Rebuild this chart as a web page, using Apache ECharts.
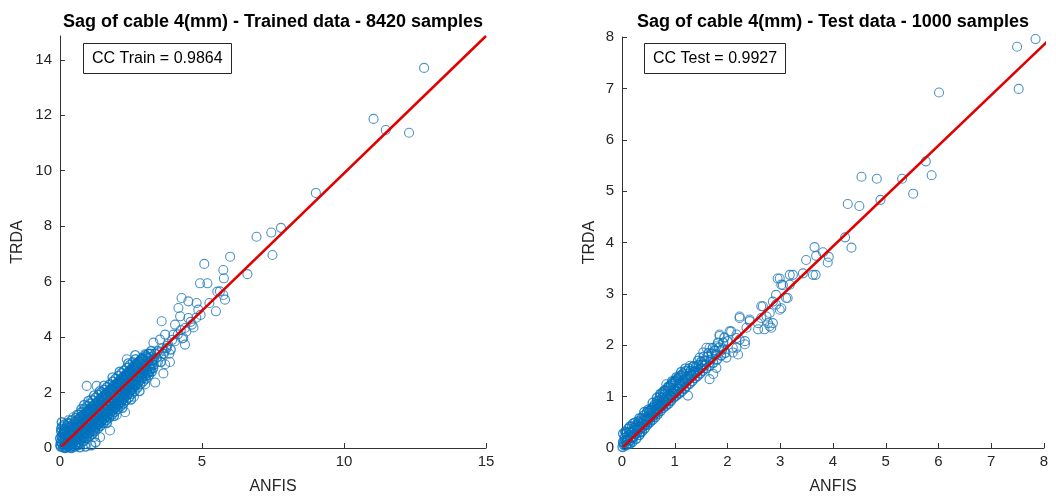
<!DOCTYPE html>
<html>
<head>
<meta charset="utf-8">
<script src="https://cdn.jsdelivr.net/npm/echarts@6/dist/echarts.min.js"></script>
<style>html,body{margin:0;padding:0;background:#fff}#c{width:1056px;height:500px}</style>
</head>
<body>
<div id="c"></div>
<script>
const FONT = '"Liberation Sans", Arial, Helvetica, sans-serif';

const leftTitle = 'Sag of cable 4(mm) - Trained data - 8420 samples';
const rightTitle = 'Sag of cable 4(mm) - Test data - 1000 samples';
const leftNote = 'CC Train = 0.9864';
const rightNote = 'CC Test = 0.9927';
const xName = 'ANFIS';
const yName = 'TRDA';

const trainXTicks = [0, 5, 10, 15];
const trainYTicks = [0, 2, 4, 6, 8, 10, 12, 14];
const testXTicks = [0, 1, 2, 3, 4, 5, 6, 7, 8];
const testYTicks = [0, 1, 2, 3, 4, 5, 6, 7, 8];

// regression lines (endpoints)
const trainFit = [[0.05, 0.05], [15, 14.86]];
const testFit = [[0.02, 0.02], [8.06, 7.91]];

// Training data: dense band
const trainBand = [
  [0.02,0.05],[0.03,0.22],[0.05,0.41],[0.04,0.6],[0.08,0.78],[0.1,0.02],[0.07,0.15],[0.12,0.33],[0.09,0.52],[0.14,0.68],[0.06,0.93],
  [0.18,0.0],[0.2,0.12],[0.17,0.27],[0.22,0.45],[0.19,0.61],[0.24,0.79],[0.28,0.05],[0.3,0.2],[0.27,0.38],[0.31,0.55],[0.29,0.72],
  [0.36,0.02],[0.38,0.15],[0.35,0.32],[0.4,0.48],[0.37,0.64],[0.42,0.83],[0.45,0.08],[0.48,0.26],[0.46,0.42],[0.5,0.6],[0.47,0.78],[0.52,0.95],
  [0.55,0.12],[0.58,0.3],[0.56,0.5],[0.6,0.68],[0.57,0.86],[0.62,1.02],[0.65,0.2],[0.68,0.4],[0.66,0.58],[0.7,0.77],[0.67,0.95],[0.72,1.12],
  [0.75,0.3],[0.78,0.48],[0.76,0.66],[0.8,0.85],[0.77,1.03],[0.82,1.2],[0.85,0.38],[0.88,0.56],[0.86,0.75],[0.9,0.93],[0.87,1.1],[0.92,1.3],
  [0.95,0.45],[0.98,0.64],[0.96,0.83],[1.0,1.02],[0.97,1.2],[1.02,1.38],[1.05,0.55],[1.08,0.74],[1.06,0.92],[1.1,1.12],[1.07,1.3],[1.12,1.5],
  [1.15,0.62],[1.18,0.83],[1.16,1.02],[1.2,1.2],[1.17,1.4],[1.22,1.58],[1.25,0.72],[1.28,0.92],[1.26,1.1],[1.3,1.3],[1.27,1.48],[1.32,1.68],
  [1.35,0.85],[1.38,1.02],[1.36,1.2],[1.4,1.4],[1.37,1.58],[1.42,1.78],[1.45,0.95],[1.48,1.12],[1.46,1.3],[1.5,1.5],[1.47,1.68],[1.52,1.86],
  [1.55,1.05],[1.58,1.22],[1.56,1.4],[1.6,1.6],[1.57,1.78],[1.62,1.96],[1.65,1.12],[1.68,1.32],[1.66,1.5],[1.7,1.7],[1.67,1.88],[1.72,2.06],
  [1.75,1.22],[1.78,1.42],[1.76,1.6],[1.8,1.8],[1.77,1.98],[1.82,2.15],[1.85,1.35],[1.88,1.52],[1.86,1.7],[1.9,1.9],[1.87,2.08],[1.92,2.25],
  [1.95,1.45],[1.98,1.62],[1.96,1.8],[2.0,2.0],[1.97,2.18],[2.02,2.35],[2.05,1.55],[2.08,1.72],[2.06,1.9],[2.1,2.1],[2.07,2.28],[2.12,2.45],
  [2.15,1.65],[2.18,1.82],[2.16,2.0],[2.2,2.2],[2.17,2.38],[2.22,2.56],[2.25,1.78],[2.28,1.95],[2.26,2.12],[2.3,2.3],[2.27,2.48],[2.32,2.65],
  [2.35,1.9],[2.38,2.06],[2.36,2.22],[2.4,2.4],[2.37,2.58],[2.42,2.76],[2.45,2.0],[2.48,2.16],[2.46,2.33],[2.5,2.5],[2.47,2.68],[2.52,2.86],
  [2.55,2.12],[2.58,2.3],[2.56,2.46],[2.6,2.62],[2.57,2.8],[2.62,2.98],[2.65,2.25],[2.68,2.42],[2.66,2.58],[2.7,2.74],[2.67,2.92],[2.72,3.08],
  [2.76,2.38],[2.8,2.55],[2.78,2.72],[2.82,2.88],[2.79,3.05],[2.85,3.2],[2.9,2.5],[2.92,2.68],[2.88,2.85],[2.95,3.0],[2.91,3.15],
  [3.02,2.6],[3.05,2.8],[3.0,2.98],[3.08,3.15],[3.04,3.3],[3.15,2.75],[3.18,2.95],[3.12,3.1],[3.2,3.28],[3.25,3.05],[3.3,3.2],[3.28,2.88],[3.35,3.4]
];

// Training data: additional band points filling the solid region
const trainBandFill = [
  [0.0,0.35],[0.01,0.12],[0.04,0.7],[0.13,0.1],[0.11,0.5],[0.16,0.85],[0.23,0.3],[0.25,0.62],[0.33,0.1],[0.34,0.45],[0.32,0.88],
  [0.43,0.2],[0.44,0.6],[0.41,1.0],[0.53,0.05],[0.54,0.4],[0.51,0.75],[0.55,1.08],[0.63,0.1],[0.64,0.5],[0.61,0.85],[0.65,1.2],
  [0.73,0.18],[0.74,0.58],[0.71,0.95],[0.76,1.3],[0.83,0.25],[0.84,0.65],[0.81,1.05],[0.86,1.4],[0.93,0.35],[0.94,0.75],[0.91,1.15],[0.96,1.52],
  [1.03,0.42],[1.04,0.85],[1.01,1.25],[1.06,1.6],[1.13,0.5],[1.14,0.95],[1.11,1.38],[1.16,1.72],[1.23,0.6],[1.24,1.05],[1.21,1.45],[1.26,1.82],
  [1.33,0.7],[1.34,1.15],[1.31,1.55],[1.36,1.92],[1.43,0.8],[1.44,1.25],[1.41,1.65],[1.46,2.02],[1.53,0.9],[1.54,1.32],[1.51,1.75],[1.56,2.1],
  [1.63,1.0],[1.64,1.42],[1.61,1.85],[1.66,2.2],[1.73,1.1],[1.74,1.52],[1.71,1.95],[1.76,2.3],[1.83,1.2],[1.84,1.62],[1.81,2.05],[1.86,2.4],
  [1.93,1.3],[1.94,1.72],[1.91,2.15],[1.96,2.5],[2.03,1.4],[2.04,1.82],[2.01,2.25],[2.06,2.6],[2.13,1.5],[2.14,1.92],[2.11,2.35],[2.16,2.7],
  [2.23,1.6],[2.24,2.02],[2.21,2.45],[2.26,2.8],[2.33,1.72],[2.34,2.12],[2.31,2.55],[2.36,2.9],[2.43,1.82],[2.44,2.22],[2.41,2.65],[2.46,3.0],
  [2.53,1.95],[2.54,2.35],[2.51,2.75],[2.56,3.1],[2.63,2.05],[2.64,2.45],[2.61,2.85],[2.66,3.2],[2.73,2.18],[2.74,2.58],[2.71,2.95],
  [2.83,2.3],[2.84,2.7],[2.81,3.1],[2.93,2.4],[2.94,2.8],[2.91,3.25],[3.03,2.5],[3.04,2.9],[3.01,3.35],[3.13,2.62],[3.14,3.0],[3.11,3.4],
  [3.23,2.75],[3.24,3.15],[3.21,3.5],[0.9,0.05],[1.1,0.1],[1.25,0.2],[0.7,0.02],[0.2,0.02],[0.4,0.0],
  [0.08,0.4],[0.15,0.55],[0.26,0.15],[0.27,0.9],[0.39,0.28],[0.38,0.75],[0.49,0.5],[0.5,0.85],[0.59,0.2],[0.6,0.95],[0.69,0.3],[0.69,1.05],
  [0.79,0.4],[0.79,1.15],[0.89,0.48],[0.89,1.22],[0.99,0.55],[0.99,1.32],[1.09,0.65],[1.09,1.42],[1.19,0.72],[1.19,1.52],[1.29,0.82],[1.29,1.62],
  [1.39,0.92],[1.39,1.72],[1.49,1.02],[1.49,1.82],[1.59,1.12],[1.59,1.92],[1.69,1.22],[1.69,2.02],[1.79,1.32],[1.79,2.12],[1.89,1.42],[1.89,2.22],
  [1.99,1.52],[1.99,2.32],[2.09,1.62],[2.09,2.42],[2.19,1.72],[2.19,2.52],[2.29,1.85],[2.29,2.62],[2.39,1.95],[2.39,2.72],[2.49,2.08],[2.49,2.82],
  [2.59,2.18],[2.59,2.92],[2.69,2.3],[2.69,3.02],[2.79,2.42],[2.79,3.12],[2.89,2.55],[2.89,3.22],[2.99,2.65],[2.99,3.1],[3.09,2.72],[3.09,3.25],
  [3.19,2.85],[3.19,3.4],[3.3,3.0],[3.4,3.25],[3.45,3.5],[3.55,3.1],[3.65,3.4],[3.75,3.6],[3.9,3.55],
  [0.75,1.4],[0.85,1.55],[1.0,1.7],[1.2,1.9],[1.4,2.05],[1.65,0.9],[1.9,1.15],[2.2,1.45],[2.5,1.75],[2.8,2.05],[1.55,2.25],[1.85,2.55],[2.1,2.75],[2.4,3.05],[2.65,3.35]
];

// Training data: scattered points and outliers
const trainSparse = [
  [3.45,3.1],[3.5,3.45],[3.55,3.3],[3.6,3.6],[3.68,3.5],[3.8,3.75],[3.85,3.4],[3.95,3.9],[4.05,3.85],[4.15,4.1],[4.25,4.25],[4.3,3.95],[4.45,4.2],[4.6,4.55],[4.7,4.35],[4.8,4.7],[4.95,4.8],
  [2.29,1.29],[1.76,0.63],[1.41,0.39],[1.2,0.4],[0.9,0.15],[2.0,1.2],[2.6,1.85],[3.0,2.3],
  [0.94,2.24],[1.29,2.24],[1.7,1.94],[1.1,1.75],[0.6,1.2],[0.3,1.0],[0.47,1.11],
  [2.35,3.2],[2.82,2.96],[3.7,3.02],[3.87,3.1],[3.35,2.36],[3.64,2.69],[2.99,3.38],
  [3.29,3.8],[3.76,3.68],[3.52,3.91],[4.4,3.73],[3.7,4.09],[3.99,4.09],[4.34,3.97],[4.05,4.45],[4.4,4.33],[4.64,4.45],
  [3.58,4.57],[4.23,4.75],[4.52,4.69],[4.17,5.05],[4.28,5.41],[4.52,5.29],[4.81,5.23],[5.26,5.23],[5.49,4.93],[5.81,5.35],[5.63,5.65],
  [4.87,4.99],[4.93,5.94],[5.19,5.94],[5.77,6.12],[5.75,6.42],[5.08,6.64],[5.99,6.9],[6.6,6.27],[5.54,5.64],[5.75,5.52],
  [6.92,7.62],[7.44,7.77],[7.78,7.94],[7.48,6.96],[9.01,9.2],[11.04,11.87],[11.47,11.47],[12.29,11.37],[12.82,13.71]
];

// Test data: dense band
const testBand = [
  [0.01,0.02],[0.03,0.1],[0.05,0.2],[0.02,0.28],[0.08,0.05],[0.1,0.15],[0.07,0.3],[0.12,0.38],[0.15,0.08],[0.17,0.2],[0.14,0.32],[0.19,0.42],[0.2,0.12],
  [0.22,0.22],[0.24,0.35],[0.21,0.48],[0.27,0.18],[0.29,0.3],[0.26,0.42],[0.31,0.52],[0.33,0.25],[0.35,0.38],[0.32,0.5],[0.38,0.32],[0.4,0.45],[0.37,0.58],
  [0.43,0.38],[0.45,0.52],[0.42,0.64],[0.48,0.45],[0.5,0.58],[0.47,0.7],[0.53,0.5],[0.55,0.63],[0.52,0.72],[0.58,0.55],[0.6,0.68],[0.57,0.78],
  [0.63,0.6],[0.65,0.74],[0.62,0.85],[0.68,0.66],[0.7,0.8],[0.67,0.92],[0.73,0.72],[0.75,0.87],[0.72,1.0],[0.78,0.78],[0.8,0.95],[0.77,1.08],
  [0.83,0.82],[0.85,1.0],[0.82,1.12],[0.88,0.86],[0.9,1.05],[0.87,1.18],[0.93,0.92],[0.95,1.1],[0.92,1.22],[0.98,0.98],[1.0,1.15],[0.97,1.28],
  [1.03,1.02],[1.05,1.2],[1.02,1.32],[1.08,1.06],[1.1,1.25],[1.07,1.38],[1.13,1.1],[1.15,1.3],[1.12,1.42],[1.18,1.15],[1.2,1.34],
  [1.22,1.2],[1.25,1.4],[1.28,1.25],[1.3,1.5],[1.33,1.3],[1.35,1.48],[1.38,1.36],[1.4,1.58],[1.43,1.4],[1.45,1.62],[1.48,1.45],[1.5,1.68],
  [1.53,1.5],[1.56,1.7],[1.6,1.55],[1.62,1.78],[1.66,1.6],[1.7,1.84],[1.73,1.66],[1.76,1.9],[1.8,1.72],[1.84,1.96],[1.88,1.8],[1.92,2.05],[1.96,1.85],[2.0,2.08],
  [0.04,0.05],[0.06,0.15],[0.09,0.22],[0.11,0.08],[0.13,0.25],[0.16,0.15],[0.18,0.3],[0.21,0.2],[0.23,0.4],[0.25,0.28],[0.28,0.38],[0.3,0.45],
  [0.34,0.3],[0.36,0.48],[0.39,0.4],[0.41,0.55],[0.44,0.45],[0.46,0.6],[0.49,0.52],[0.51,0.68],[0.54,0.58],[0.56,0.75],[0.59,0.62],[0.61,0.8],
  [0.64,0.68],[0.66,0.86],[0.69,0.74],[0.71,0.92],[0.74,0.8],[0.76,0.98],[0.79,0.85],[0.81,1.05],[0.84,0.9],[0.86,1.12],[0.89,0.95],[0.91,1.18],
  [0.94,1.0],[0.96,1.25],[0.99,1.06],[1.01,1.3],[1.04,1.1],[1.06,1.35],[1.09,1.15],[1.11,1.4],[1.14,1.22],[1.16,1.45],[1.19,1.28],[1.21,1.5],
  [1.24,1.32],[1.27,1.55],[1.32,1.4],[1.36,1.6],[1.41,1.48],[1.44,1.7],[1.5,1.55],[1.55,1.78],[1.58,1.62],[1.64,1.85],[1.68,1.72],[1.72,1.95],
  [1.78,1.82],[1.82,2.05],[1.9,1.92],[1.94,2.15],
  [0.02,0.12],[0.06,0.32],[0.12,0.18],[0.15,0.42],[0.2,0.3],[0.25,0.5],[0.3,0.35],[0.33,0.58],[0.38,0.48],[0.42,0.7],[0.46,0.55],[0.5,0.75],
  [0.55,0.68],[0.58,0.88],[0.63,0.76],[0.66,0.98],[0.7,0.85],[0.73,1.05],[0.78,0.92],[0.8,1.12],[0.85,0.96],[0.88,1.2],[0.92,1.05],[0.95,1.3],
  [1.0,1.1],[1.03,1.38],[1.08,1.2],[1.12,1.48],[1.17,1.25],[1.2,1.55],[1.26,1.35],[1.3,1.42],[1.34,1.58],[1.39,1.5],[1.45,1.52],[1.52,1.62]
];

// Test data: scattered points and outliers
const testSparse = [
  [0.09,0.28],[0.28,0.47],[0.47,0.66],[0.72,1.05],[0.84,1.24],[0.91,0.92],[1.03,1.18],[1.1,1.37],[1.22,1.44],[1.25,1.02],[1.29,1.6],
  [1.47,1.76],[1.54,1.86],[1.6,1.69],[1.66,1.95],[1.66,1.34],[1.73,1.44],[1.79,1.56],[1.85,2.18],[1.98,1.76],[2.04,2.27],[2.1,1.86],
  [2.17,2.21],[2.17,1.95],[2.23,2.11],[2.33,2.02],[1.6,1.95],[1.79,1.98],[2.1,1.95],[2.2,1.82],[2.07,2.27],[2.17,2.14],[2.33,2.08],[1.85,2.21],
  [2.23,2.53],[2.23,2.56],[2.42,2.47],[2.42,2.5],[2.36,2.34],[2.58,2.31],[2.58,2.43],[2.77,2.43],[2.83,2.34],[2.7,2.31],[2.8,2.37],[2.86,2.43],
  [2.64,2.53],[2.74,2.56],[2.67,2.76],[2.64,2.76],[2.8,2.63],[2.99,2.69],[2.92,2.79],[3.02,2.72],[2.86,2.85],[3.14,2.92],[3.11,2.92],[2.92,2.98],
  [3.18,3.18],[3.02,3.18],[2.95,3.3],[3.24,3.37],[3.18,3.37],[3.43,3.4],[3.49,3.66],[3.62,3.37],[3.67,3.37],[3.65,3.91],[3.81,3.81],[3.92,3.72],
  [3.9,3.61],[3.68,3.74],[3.05,3.17],[2.99,3.3],
  [4.23,4.1],[4.35,3.9],[4.28,4.75],[4.5,4.71],[4.54,5.28],[4.83,5.24],[4.9,4.83],[5.31,5.24],[5.52,4.95],[5.76,5.58],[5.87,5.31],
  [6.01,6.92],[7.52,6.99],[7.49,7.81],[7.84,7.96]
];

const trainDense = trainBand.concat(trainBandFill);

const axisColor = '#333333';
const labelStyle = { fontFamily: FONT, fontSize: 15, color: '#262626' };

function xAxisCfg(gridIndex, max, interval, ticks) {
  return {
    type: 'value', gridIndex, min: 0, max, interval,
    name: xName, nameLocation: 'middle', nameGap: 31,
    nameTextStyle: { fontFamily: FONT, fontSize: 16, color: '#262626' },
    axisLine: { show: true, lineStyle: { color: axisColor, width: 1 } },
    axisTick: { show: true, inside: true, length: 5, lineStyle: { color: axisColor }, customValues: ticks },
    axisLabel: { ...labelStyle, margin: 6, customValues: ticks },
    splitLine: { show: false }
  };
}
function yAxisCfg(gridIndex, max, interval, ticks, gap) {
  return {
    type: 'value', gridIndex, min: 0, max, interval,
    name: yName, nameLocation: 'middle', nameGap: gap,
    nameTextStyle: { fontFamily: FONT, fontSize: 16, color: '#262626' },
    axisLine: { show: true, lineStyle: { color: axisColor, width: 1 } },
    axisTick: { show: true, inside: true, length: 5, lineStyle: { color: axisColor }, customValues: ticks },
    axisLabel: { ...labelStyle, margin: 8, customValues: ticks },
    splitLine: { show: false }
  };
}

const denseStyle = { color: 'rgba(0,0,0,0)', borderColor: '#0072BD', borderWidth: 1.35 };
const sparseStyle = { color: 'rgba(0,0,0,0)', borderColor: '#1f78b8', borderWidth: 1.1 };
const noteBox = (text, left) => ({
  text, left, top: 43,
  borderColor: '#262626', borderWidth: 1, padding: [7, 9, 6, 9],
  textStyle: { fontFamily: FONT, fontSize: 16, fontWeight: 'normal', color: '#000', lineHeight: 18 }
});
const titleText = (text, x) => ({
  type: 'text', x, y: 22, silent: true,
  style: { text, fontFamily: FONT, fontSize: 18, fontWeight: 'bold', fill: '#000',
           align: 'center', verticalAlign: 'middle', textAlign: 'center', textVerticalAlign: 'middle' }
});
const scatter = (xi, data, style) => ({
  type: 'scatter', xAxisIndex: xi, yAxisIndex: xi, data, symbol: 'circle', symbolSize: 9, itemStyle: style, silent: true
});

const chart = echarts.init(document.getElementById('c'), null, { renderer: 'canvas' });
chart.setOption({
  animation: false,
  backgroundColor: '#ffffff',
  title: [noteBox(leftNote, 83), noteBox(rightNote, 644)],
  graphic: [titleText(leftTitle, 273), titleText(rightTitle, 833)],
  grid: [
    { left: 60, top: 36, width: 426, height: 415 },
    { left: 622, top: 37, width: 422, height: 414 }
  ],
  xAxis: [
    xAxisCfg(0, 15, 5, trainXTicks),
    xAxisCfg(1, 8, 1, testXTicks)
  ],
  yAxis: [
    yAxisCfg(0, 14.86, 2, trainYTicks, 34),
    yAxisCfg(1, 8, 1, testYTicks, 24)
  ],
  series: [
    scatter(0, trainDense, denseStyle),
    scatter(0, trainSparse, sparseStyle),
    { type: 'line', xAxisIndex: 0, yAxisIndex: 0, data: trainFit, symbol: 'none', lineStyle: { color: '#e00000', width: 2.5 }, silent: true, z: 5 },
    scatter(1, testBand, denseStyle),
    scatter(1, testSparse, sparseStyle),
    { type: 'line', xAxisIndex: 1, yAxisIndex: 1, data: testFit, symbol: 'none', lineStyle: { color: '#e00000', width: 2.5 }, silent: true, z: 5 }
  ]
});
</script>
</body>
</html>
